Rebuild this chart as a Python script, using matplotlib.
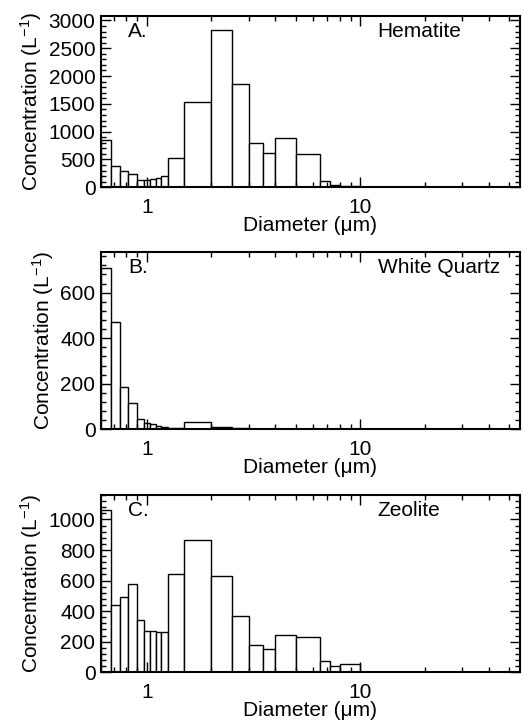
import matplotlib
matplotlib.use('Agg')
import matplotlib.pyplot as plt
import numpy as np
from matplotlib.ticker import AutoMinorLocator, LogLocator, NullFormatter

plt.rcParams['font.family'] = ['Liberation Sans', 'DejaVu Sans']
plt.rcParams['mathtext.fontset'] = 'custom'
plt.rcParams['mathtext.rm'] = 'Liberation Sans'
plt.rcParams['mathtext.it'] = 'Liberation Sans:italic'

# size bin edges (um), shared by all three samples
bin_edges = [0.61, 0.68, 0.75, 0.82, 0.90, 0.97, 1.03, 1.10, 1.17, 1.25, 1.5,
             2.0, 2.5, 3.0, 3.5, 4.0, 5.0, 6.5, 7.2, 8.0, 10.0, 12.5]

hematite = [856, 392, 302, 242, 139, 127, 151, 175, 206, 531, 1536,
            2820, 1850, 802, 622, 880, 597, 121, 48, 25, 3]
white_quartz = [710, 471, 185, 114, 44, 29, 22, 16, 12, 7, 32,
                12, 5, 2, 2, 1, 1, 1, 0.5, 0.5, 0]
zeolite = [1063, 438, 494, 575, 342, 270, 268, 265, 265, 642, 865,
           627, 368, 178, 150, 244, 233, 72, 39, 52, 5]

panels = [
    ('A.', 'Hematite', hematite, 3085, 500, [0.1924, 0.742, 0.798, 0.2364]),
    ('B.', 'White Quartz', white_quartz, 780, 200, [0.1924, 0.4087, 0.798, 0.2446]),
    ('C.', 'Zeolite', zeolite, 1160, 200, [0.1924, 0.074, 0.798, 0.2442]),
]

fig = plt.figure(figsize=(5.25, 7.26), dpi=100)
edges = np.array(bin_edges)
widths = np.diff(edges)

for letter, name, vals, ymax, ystep, rect in panels:
    ax = fig.add_axes(rect)
    ax.bar(edges[:-1], vals, width=widths, align='edge', color='white',
           edgecolor='black', linewidth=1.0)
    ax.set_xscale('log')
    ax.set_xlim(0.61, 56)
    ax.set_ylim(0, ymax)
    ax.set_xticks([1, 10])
    ax.set_xticklabels(['1', '10'])
    ax.xaxis.set_minor_locator(LogLocator(base=10, subs=np.arange(2, 10)))
    ax.xaxis.set_minor_formatter(NullFormatter())
    ax.set_yticks(np.arange(0, ymax, ystep))
    ax.yaxis.set_minor_locator(AutoMinorLocator(5))
    ax.tick_params(which='both', direction='in', top=True, right=True,
                   labelsize=15, width=1.0)
    ax.tick_params(which='major', length=7)
    ax.tick_params(which='minor', length=3.5)
    ax.tick_params(axis='x', pad=8)
    ax.tick_params(axis='y', pad=4)
    for s in ax.spines.values():
        s.set_linewidth(1.5)
    ax.set_xlabel('Diameter (μm)', fontsize=15, labelpad=-1)
    ax.set_ylabel('Concentration (L$^{-1}$)', fontsize=15, labelpad=3)
    ax.text(0.064, 0.91, letter, transform=ax.transAxes, fontsize=15,
            ha='left', va='center')
    ax.text(0.66, 0.91, name, transform=ax.transAxes, fontsize=15,
            ha='left', va='center')

fig.savefig('out.png', dpi=100, facecolor='white')
